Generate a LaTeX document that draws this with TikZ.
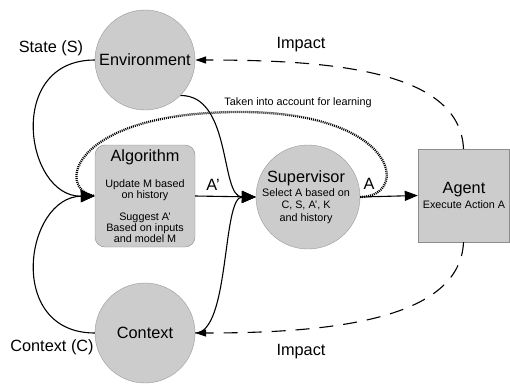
\documentclass[tikz,border=0pt]{standalone}
\usepackage{fontspec}
\setmainfont{Liberation Sans}
\usetikzlibrary{arrows.meta}
\tikzset{
  unit/.style={circle, draw=black!40, fill=black!20, minimum size=100pt, inner sep=0pt},
  block/.style={rectangle, draw=black!45, fill=black!20, inner sep=0pt},
  big/.style={font=\fontsize{16.3}{19}\selectfont},
  small/.style={font=\fontsize{10.8}{11}\selectfont, align=center},
  flow/.style={line width=1.1pt, -{Triangle[length=14pt,width=12pt]}},
  impact/.style={line width=1.1pt, dash pattern=on 14pt off 10pt, -{Triangle[length=11pt,width=7pt]}},
  learn/.style={line width=2.3pt, dash pattern=on 1pt off 1pt}
}
\begin{document}
\begin{tikzpicture}[x=1pt, y=-1pt]
  \useasboundingbox (0,0) rectangle (510,383);
  % units
  \node[unit] (env) at (145,60) {};
  \node[unit] (ctx) at (145,333) {};
  \node[unit, minimum size=104pt] (sup) at (308,197) {};
  \node[block, rounded corners=10pt, minimum width=100pt, minimum height=102pt] (alg) at (145,196) {};
  \node[block, minimum width=91pt, minimum height=93pt] (agent) at (463.5,195.5) {};
  \coordinate (looptop) at (240,112);
  % texts
  \node[big] (envtext) at (145,60) {Environment};
  \node[big] (ctxtext) at (145,333) {Context};
  \node[big] (algtitle) at (145,157) {Algorithm};
  \node[small] (algtext) at (145,211) {Update M based\\on history\\[11pt]Suggest A'\\Based on inputs\\and model M};
  \node[big] (suptitle) at (306,178) {Supervisor};
  \node[small, font=\fontsize{10.8}{12.5}\selectfont] (suptext) at (306,206) {Select A based on\\C, S, A', K\\and history};
  \node[big] (agenttitle) at (464,190) {Agent};
  \node[small] (agenttext) at (464,205) {Execute Action A};
  \node[big] (state) at (51,48) {State (S)};
  \node[big] (context) at (52,347) {Context (C)};
  \node[big] (impacttop) at (301,45) {Impact};
  \node[big] (impactbot) at (301,352) {Impact};
  \node[small] (learning) at (298,103) {Taken into account for learning};
  \node[big] (aprime) at (213,185) {A'};
  \node[big] (a) at (369,184) {A};
  % connectors
  \draw[learn] (sup.east) .. controls (410,197) and (400,112) .. (looptop)
    .. controls (70,112) and (55,190) .. (alg.west);
  \draw[flow] (env.west) .. controls (5,60) and (25,197) .. (alg.west);
  \draw[flow] (ctx.west) .. controls (5,333) and (25,197) .. (alg.west);
  \draw[flow] (env.-45) .. controls (232,95) and (220,197) .. (sup.west);
  \draw[flow] (ctx.east) .. controls (230,333) and (222,197) .. (sup.west);
  \draw[flow] (alg.east) -- (sup.west);
  \draw[flow, -{Triangle[length=13pt,width=10pt]}] (sup.east) -- (agent.west);
  \draw[impact] (agent.north) .. controls (460,70) and (330,60) .. (env.east);
  \draw[impact] (agent.south) .. controls (460,320) and (330,333) .. (ctx.east);
\end{tikzpicture}
\end{document}
